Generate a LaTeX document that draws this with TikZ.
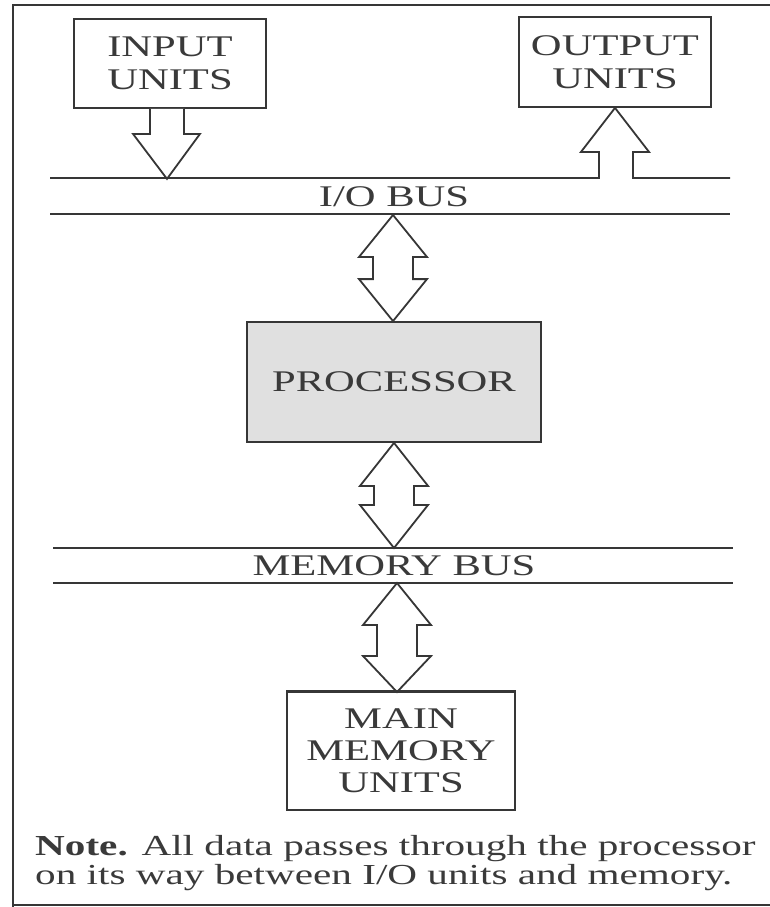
\documentclass[tikz,border=0pt]{standalone}
\usepackage{fontspec}
\setmainfont{Liberation Serif}[FakeStretch=1.42]
\usetikzlibrary{calc}
\definecolor{ink}{HTML}{363636}
\definecolor{txt}{HTML}{3A3A3A}
\definecolor{procfill}{HTML}{E0E0E0}
\tikzset{
  ln/.style={draw=ink, line width=1.8pt, line join=miter},
  unitbox/.style={ln, fill=white, align=center, text=txt, inner sep=0pt,
    font=\fontsize{30}{33}\selectfont},
  buslabel/.style={text=txt, inner sep=0pt, font=\fontsize{30}{33}\selectfont},
  notetext/.style={text=txt, inner sep=0pt, anchor=base west, font=\fontsize{29}{30}\selectfont},
  blockarrow/.style={ln, fill=white}
}
% vertical double block arrow from #1 (top tip) to #2 (bottom tip)
\newcommand{\dblblock}[4]{%
  \draw[blockarrow] let \p1=(#1), \p2=(#2) in
    (\x1,\y1) -- (\x1+34pt,\y1-#3) -- (\x1+20pt,\y1-#3) -- (\x1+20pt,\y2+#4)
    -- (\x1+34pt,\y2+#4) -- (\x1,\y2) -- (\x1-34pt,\y2+#4) -- (\x1-20pt,\y2+#4)
    -- (\x1-20pt,\y1-#3) -- (\x1-34pt,\y1-#3) -- cycle;}
\begin{document}
\begin{tikzpicture}[x=1pt,y=-1pt]
\useasboundingbox (0,0) rectangle (770,907);
% frame
\draw[ln] (770,5) -- (13,5) -- (13,907);
\draw[ln] (13,905) -- (770,905);

% units
\node[unitbox, minimum width=192pt, minimum height=89pt] (in) at (170,63.5) {INPUT\\UNITS};
\node[unitbox, minimum width=192pt, minimum height=90pt] (out) at (615,62) {OUTPUT\\UNITS};
\node[unitbox, fill=procfill, minimum width=294pt, minimum height=120pt,
      font=\fontsize{30}{33}\selectfont] (proc) at (394,382) {PROCESSOR};
\node[unitbox, minimum width=228pt, minimum height=118pt,
      font=\fontsize{30}{32}\selectfont] (mem) at (401,751) {MAIN\\MEMORY\\UNITS};

% buses
\coordinate (iotL) at (50,178);
\coordinate (iotR) at (730,178);
\coordinate (iobL) at (50,214);
\coordinate (iobR) at (730,214);
\coordinate (mbtL) at (53,548);
\coordinate (mbtR) at (733,548);
\coordinate (mbbL) at (53,583);
\coordinate (mbbR) at (733,583);
\node[buslabel] (iolab) at (394,197) {I/O BUS};
\node[buslabel] (memlab) at (394,566) {MEMORY BUS};

% I/O bus lower line, memory bus lines
\draw[ln] (iobL) -- (iobR);
\draw[ln] (mbtL) -- (mbtR);
\draw[ln] (mbbL) -- (mbbR);

% I/O bus upper line with output arrow rising out of it
\coordinate (outtip) at (out.south);
\draw[ln] (iotL) -- ($(outtip)+(-16,70)$) -- ($(outtip)+(-16,44)$) -- ($(outtip)+(-34,44)$)
  -- (outtip) -- ($(outtip)+(34,44)$) -- ($(outtip)+(18,44)$) -- ($(outtip)+(18,70)$) -- (iotR);

% input arrow down onto bus
\coordinate (intop) at ($(in.south)+(-3,0)$);
\draw[blockarrow] ($(intop)+(-17,0)$) -- ($(intop)+(-17,25)$) -- ($(intop)+(-34,25)$)
  -- ($(intop)+(0,70)$) -- ($(intop)+(33,25)$) -- ($(intop)+(17,25)$) -- ($(intop)+(17,0)$);

% double arrows
\coordinate (a1t) at (393,215);
\dblblock{a1t}{proc.north}{42pt}{42pt}
\coordinate (a2b) at (394,548);
\dblblock{proc.south}{a2b}{43pt}{43pt}
\coordinate (a3t) at (397,583);
\coordinate (a3b) at (397,692);
\dblblock{a3t}{a3b}{42pt}{36pt}
\draw[ln] (mem.north west) -- (mem.north east);

% note
\node[notetext] (note1) at (35,855) {\textbf{Note.} All data passes through the processor};
\node[notetext] (note2) at (35,884) {on its way between I/O units and memory.};
\end{tikzpicture}
\end{document}
